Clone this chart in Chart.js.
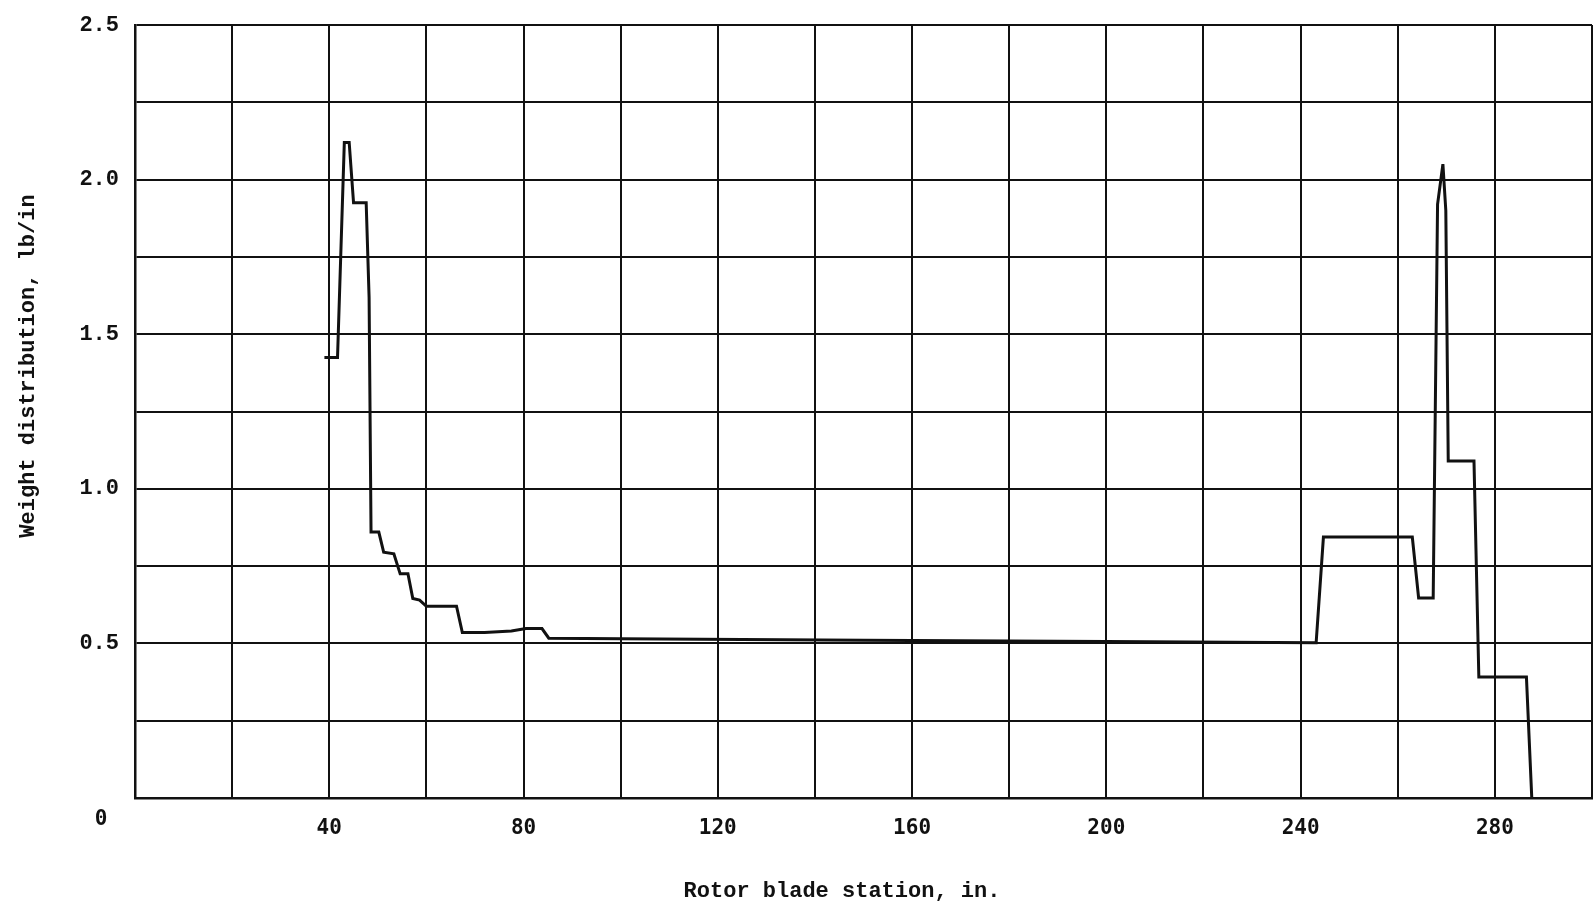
<!DOCTYPE html>
<html>
<head>
<meta charset="utf-8">
<script src="https://cdn.jsdelivr.net/npm/chart.js@4/dist/chart.umd.min.js"></script>
<style>
  html, body { margin: 0; padding: 0; background: #fff; }
  canvas { display: block; }
</style>
</head>
<body>
<canvas id="grafico-peso" width="1595" height="916"></canvas>
<script>
// Estações da pá do rotor (in) e distribuição de peso (lb/in)
const estacoes = [39, 41.7, 43.1, 44.1, 45.0, 47.6, 48.2, 48.6, 50.2, 51.2, 53.3, 54.6, 56.2, 57.2, 58.6, 60.0,
    66.2, 67.4, 72.0, 77.5, 80.5, 83.8, 85.2, 100, 150, 200, 243.2, 244.7, 263.0, 264.3, 267.3, 268.2,
    269.3, 269.9, 270.4, 275.7, 276.7, 286.5, 287.6];
const pesos = [1.425, 1.425, 2.12, 2.12, 1.925, 1.925, 1.62, 0.86, 0.86, 0.795, 0.79, 0.725, 0.725, 0.645, 0.64, 0.62,
    0.62, 0.535, 0.535, 0.54, 0.548, 0.548, 0.517, 0.515, 0.51, 0.506, 0.502, 0.844, 0.844, 0.647, 0.647, 1.92,
    2.05, 1.9, 1.09, 1.09, 0.391, 0.391, 0];

const ticksX = [40, 80, 120, 160, 200, 240, 280];
const ticksY = [0.5, 1.0, 1.5, 2.0, 2.5];
const rotuloOrigem = '0';
const tituloX = 'Rotor blade station, in.';
const tituloY = 'Weight distribution, lb/in';

const tinta = '#111';

// Desenha o "0" da origem e os títulos dos eixos
const textosExtras = {
    id: 'textosExtras',
    afterDraw(chart) {
        const { ctx, chartArea } = chart;
        const { x, y } = chart.scales;
        ctx.save();
        ctx.fillStyle = tinta;
        ctx.textAlign = 'center';
        ctx.textBaseline = 'middle';
        ctx.font = 'bold 21px "DejaVu Sans Mono"';
        ctx.fillText(rotuloOrigem, x.getPixelForValue(0) - 34, y.getPixelForValue(0) + 22);

        ctx.font = 'bold 22px "Liberation Mono"';
        ctx.fillText(tituloX, chartArea.left + 707, chartArea.bottom + 93);

        ctx.translate(28, chartArea.top + 341);
        ctx.rotate(-Math.PI / 2);
        ctx.fillText(tituloY, 0, 0);
        ctx.restore();
    }
};

const ctx = document.getElementById('grafico-peso').getContext('2d');
new Chart(ctx, {
    type: 'line',
    data: {
        datasets: [{
            label: 'Weight distribution',
            data: estacoes.map((e, i) => ({ x: e, y: pesos[i] })),
            borderColor: tinta,
            borderWidth: 3,
            pointRadius: 0,
            tension: 0,
            fill: false
        }]
    },
    options: {
        responsive: false,
        animation: false,
        layout: { padding: { top: 25, right: 3, left: 0, bottom: 0 } },
        plugins: {
            legend: { display: false },
            tooltip: { enabled: false }
        },
        scales: {
            x: {
                type: 'linear',
                min: 0,
                max: 300,
                afterFit: s => { s.height = 118; s.paddingLeft = 0; s.paddingRight = 0; },
                ticks: {
                    stepSize: 20,
                    autoSkip: false,
                    maxRotation: 0,
                    padding: 18,
                    color: tinta,
                    font: { family: 'DejaVu Sans Mono', size: 21, weight: 'bold' },
                    callback: v => ticksX.includes(v) ? String(v) : ''
                },
                grid: { color: tinta, lineWidth: 2, drawTicks: false },
                border: { color: tinta, width: 2.5 }
            },
            y: {
                min: 0,
                max: 2.5,
                afterFit: s => { s.width = 135; s.paddingTop = 0; s.paddingBottom = 0; },
                ticks: {
                    stepSize: 0.25,
                    autoSkip: false,
                    padding: 16,
                    color: tinta,
                    font: { family: 'Liberation Mono', size: 22, weight: 'bold' },
                    callback: v => ticksY.some(t => Math.abs(t - v) < 1e-6) ? v.toFixed(1) : ''
                },
                grid: { color: tinta, lineWidth: 2, drawTicks: false },
                border: { color: tinta, width: 2.5 }
            }
        }
    },
    plugins: [textosExtras]
});
</script>
</body>
</html>
